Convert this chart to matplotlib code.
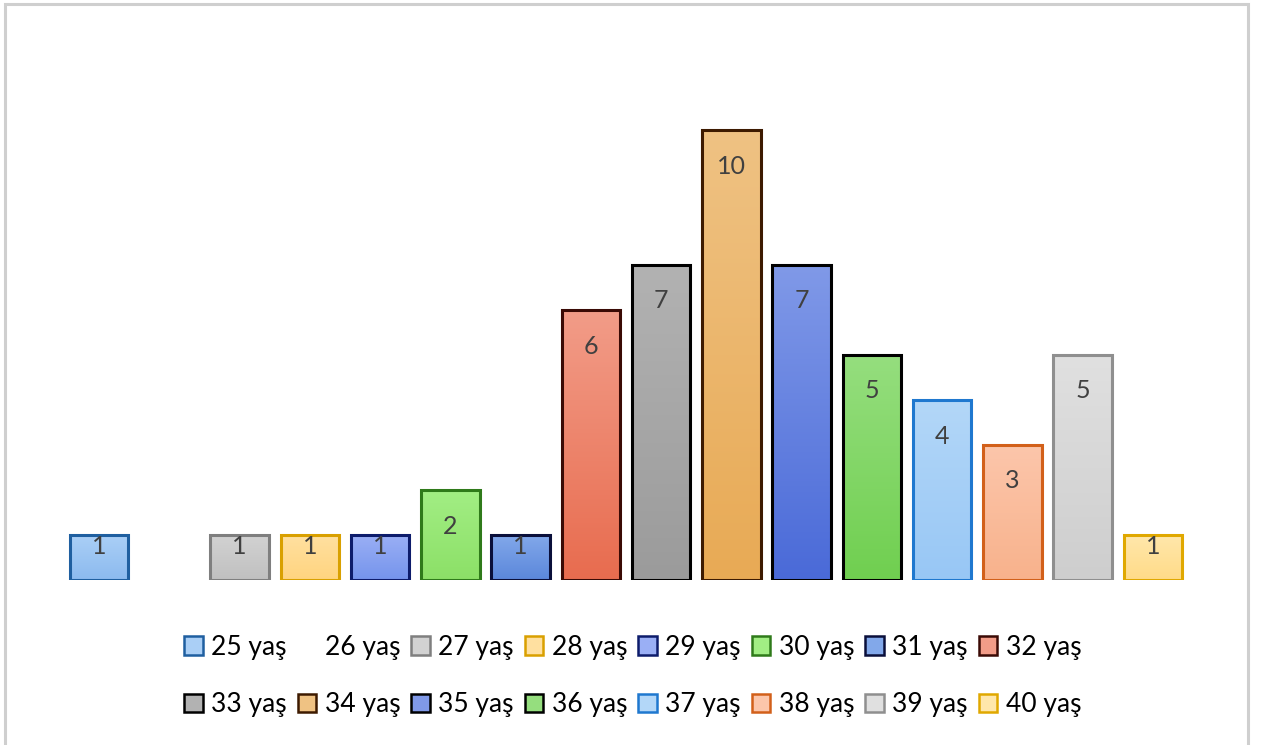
# age distribution bar chart, one coloured bar per age group
import numpy as np
import matplotlib.pyplot as plt
from matplotlib.colors import LinearSegmentedColormap
from matplotlib.patches import Patch, Rectangle

plt.rcParams['font.family'] = ['Lato', 'DejaVu Sans']

labels = ['25 yaş', '26 yaş', '27 yaş', '28 yaş', '29 yaş', '30 yaş', '31 yaş', '32 yaş',
          '33 yaş', '34 yaş', '35 yaş', '36 yaş', '37 yaş', '38 yaş', '39 yaş', '40 yaş']
values = [1, 0, 1, 1, 1, 2, 1, 6, 7, 10, 7, 5, 4, 3, 5, 1]

# gradient fills (top -> bottom) and outline colours
top_cols = ['#AACFF6', '#FFFFFF', '#D2D2D2', '#FFE0A0', '#9AAFF5', '#A2EE84', '#82A8EA', '#F29C88',
            '#B2B2B2', '#EFC283', '#8099E8', '#95DE7E', '#B3D7F8', '#FCC6AB', '#E0E0E0', '#FFE7AB']
bot_cols = ['#8CBAEF', '#FFFFFF', '#C0C0C0', '#FFD47F', '#7594EC', '#8CE067', '#5B87DB', '#E86C4F',
            '#9B9B9B', '#E8AA55', '#4A6AD8', '#70CF50', '#98C7F5', '#F8B28C', '#CECECE', '#FFDB88']
edge_cols = ['#1F5FA0', 'none', '#7F7F7F', '#D9A000', '#0D1C6B', '#2F7A1A', '#0A0F3A', '#3A0A05',
             '#000000', '#3D1A00', '#000000', '#000000', '#1F78CF', '#D2601A', '#8F8F8F', '#E0A800']

W, H = 1273, 745
fig = plt.figure(figsize=(W / 100, H / 100), dpi=100)
ax = fig.add_axes([64 / W, 1 - 580 / H, 1124 / W, 540 / H])

bw = 0.83
grad = np.linspace(0, 1, 200).reshape(-1, 1)
for i, v in enumerate(values):
    if v == 0:
        continue
    bar = ax.bar(i, v, width=bw, color=bot_cols[i], linewidth=0, zorder=2)[0]
    cmap = LinearSegmentedColormap.from_list('g%d' % i, [bot_cols[i], top_cols[i]])
    im = ax.imshow(grad, cmap=cmap, origin='lower', aspect='auto', zorder=2.1,
                   extent=(i - bw / 2, i + bw / 2, 0, v))
    im.set_clip_path(bar)
    ax.bar(i, v, width=bw, fill=False, edgecolor=edge_cols[i], linewidth=2.2, zorder=3)
    off = 36 if v > 1 else 11
    ax.annotate(str(v), (i, v), xytext=(0, -off), textcoords='offset pixels',
                ha='center', va='center', fontsize=18, color='#404040', zorder=4)

ax.set_xlim(-0.5, len(values) - 0.5)
ax.set_ylim(0, 12)
ax.axis('off')

# legend laid out row by row (8 per row)
handles = []
for i in range(len(labels)):
    if values[i] == 0:
        handles.append(Patch(facecolor='none', edgecolor='none'))
    else:
        handles.append(Patch(facecolor=top_cols[i], edgecolor=edge_cols[i], linewidth=1.8))
order = [k for pair in zip(range(8), range(8, 16)) for k in pair]
fig.legend([handles[k] for k in order], [labels[k] for k in order],
           loc='center', bbox_to_anchor=(0.497, 1 - 676 / H), ncol=8, frameon=False,
           fontsize=19, handlelength=0.7, handleheight=0.7, handletextpad=0.32,
           columnspacing=0.42, labelspacing=1.25, borderpad=0)

# chart border
fig.add_artist(Rectangle((4.5 / W, -0.1), 1243 / W, 1.1 - 4.5 / H, fill=False,
                         edgecolor='#CFCFCF', linewidth=2.2, transform=fig.transFigure))

plt.savefig('out.png', dpi=100)
